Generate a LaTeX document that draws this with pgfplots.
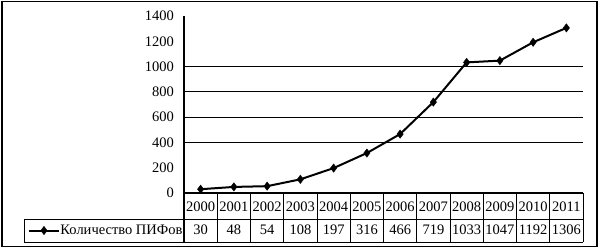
\documentclass[border=0pt]{standalone}
\usepackage{pgfplots}
\pgfplotsset{compat=1.18}
\usepackage{pgfplotstable}
\usepackage{fontspec}
\setmainfont{Liberation Serif}
\newcommand{\f}{\fontsize{14.5}{17}\selectfont}
\pgfplotstableread{
x year v
0 2000 30
1 2001 48
2 2002 54
3 2003 108
4 2004 197
5 2005 316
6 2006 466
7 2007 719
8 2008 1033
9 2009 1047
10 2010 1192
11 2011 1306
}\data
\begin{document}
\f
\begin{tikzpicture}[x=1pt,y=1pt]
\useasboundingbox (0,0) rectangle (600,249);
\draw[line width=1.6pt] (2,2.5) rectangle (597,247.5);
\begin{axis}[
  at={(184pt,56pt)}, anchor=south west,
  scale only axis, width=399pt, height=177pt,
  xmin=-0.5, xmax=11.5, ymin=0, ymax=1400,
  clip=false,
  axis x line=bottom, axis y line=left,
  axis line style={line width=1.2pt, -},
  xtick=\empty,
  ytick={0,200,...,1400},
  major tick length=0pt,
  extra y ticks={400,600,800,1000},
  extra y tick labels={},
  extra y tick style={grid=major},
  major grid style={black, line width=0.8pt},
  tick label style={font=\f},
  yticklabel style={xshift=-5pt},
  /pgf/number format/1000 sep={},
  /pgf/number format/assume math mode=true,
  legend style={draw=none, fill=none, font=\f, at={(-0.391,-0.212)}, anchor=west, inner sep=0pt, outer sep=0pt, cells={anchor=west}, nodes={inner xsep=0.5pt}},
  legend image code/.code={\draw[#1, mark repeat=2, mark phase=2] plot coordinates {(0pt,0pt) (15pt,0pt) (30pt,0pt)};},
]
\addplot[black, line width=2pt, mark=diamond*, mark size=4.2pt, mark options={line width=0.4pt}] table[x=x, y=v] {\data};
\addlegendentry{Количество ПИФов}
\addplot[draw=none, mark=none, point meta=explicit symbolic, nodes near coords, nodes near coords align=center, every node near coord/.append style={font=\f, inner sep=0pt, anchor=center}, forget plot] table[x=x, y expr=-105, meta=year] {\data};
\addplot[draw=none, mark=none, point meta=explicit symbolic, nodes near coords, nodes near coords align=center, every node near coord/.append style={font=\f, inner sep=0pt, anchor=center}, forget plot] table[x=x, y expr=-293, meta=v] {\data};
\end{axis}
% table grid
\foreach \k in {0,...,12} {\draw[line width=0.9pt] ({184+33.25*\k},56) -- ({184+33.25*\k},7);}
\draw[line width=0.9pt] (24,30) -- (583,30);
\draw[line width=0.9pt] (24,7) -- (583,7);
\draw[line width=0.9pt] (24,30) -- (24,7);
\draw[line width=1.2pt] (184,56) -- (184,7);
\end{tikzpicture}
\end{document}
